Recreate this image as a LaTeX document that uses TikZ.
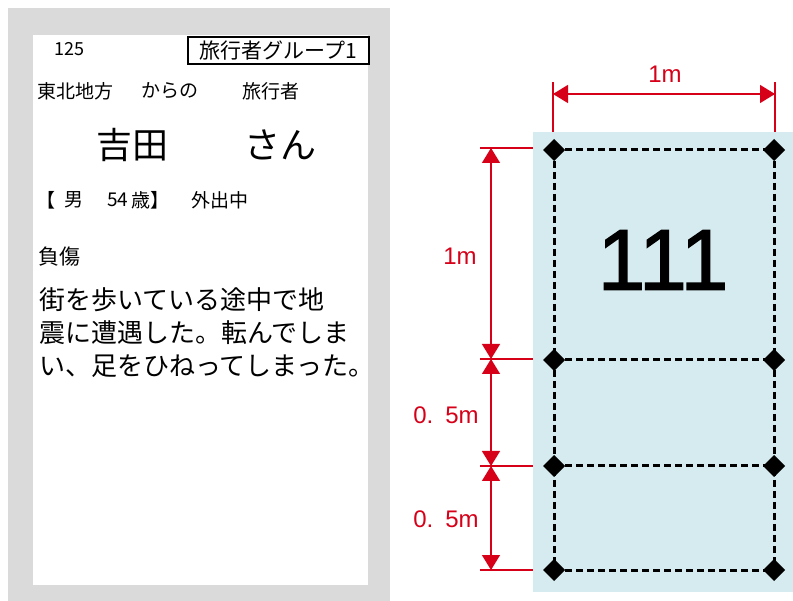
\documentclass[tikz,border=0pt]{standalone}
\usepackage{fontspec}
\setmainfont{Liberation Sans}
\newfontfamily\jp{Noto Sans CJK JP}
\newfontfamily\numfont[FakeBold=1.6]{Liberation Sans}
\usetikzlibrary{arrows.meta}
\definecolor{dimred}{RGB}{214,0,24}
\definecolor{sheet}{RGB}{214,235,240}
\definecolor{frame}{RGB}{218,218,218}
\begin{document}
\begin{tikzpicture}[x=1pt,y=-1pt,
  txt/.style={inner sep=0pt,anchor=west,font=\jp\fontsize{19}{19}\selectfont},
  big/.style={inner sep=0pt,anchor=west,font=\jp\fontsize{36}{36}\selectfont},
  para/.style={inner sep=0pt,anchor=west,font=\jp\fontsize{26}{26}\selectfont},
  dimline/.style={draw=dimred,line width=1.4pt},
  dimarrow/.style={dimline,{Triangle[length=15pt,width=18pt]}-{Triangle[length=15pt,width=18pt]}},
  extline/.style={draw=dimred,line width=1.2pt},
  dimlabel/.style={inner sep=0pt,text=dimred,font=\fontsize{24}{24}\selectfont}
]
\useasboundingbox (0,0) rectangle (793,601);
% ---------- card ----------
\fill[frame] (8,8) rectangle (390,601);
\fill[white] (33,35) rectangle (368,585);
\node[txt,font=\jp\fontsize{18}{18}\selectfont] (num) at (54,49) {125};
\node[draw=black,line width=2pt,inner sep=0pt,minimum width=181pt,minimum height=27pt,anchor=north west] (grp) at (187,36) {};
\node[inner sep=0pt,font=\jp\fontsize{21}{21}\selectfont] (grpt) at (grp.center) {旅行者グループ1};
\node[txt] (from1) at (37,91) {東北地方};
\node[txt] (from2) at (141,91) {からの};
\node[txt] (from3) at (242,91) {旅行者};
\node[big] (name1) at (96,145) {吉田};
\node[big] (name2) at (244,145) {さん};
\node[txt] (b1) at (36,200) {【};
\node[txt] (b2) at (64,200) {男};
\node[txt] (b3) at (107,200) {54};
\node[txt] (b4) at (131,200) {歳】};
\node[txt] (b5) at (191,200) {外出中};
\node[txt,font=\jp\fontsize{21}{21}\selectfont] (inj) at (38,257) {負傷};
\node[para] (p1) at (39,300) {街を歩いている途中で地};
\node[para] (p2) at (39,333) {震に遭遇した。転んでしま};
\node[para] (p3) at (39,366) {い、足をひねってしまった。};
% ---------- floor plan ----------
\fill[sheet] (533,132) rectangle (793,592);
\coordinate (a1) at (554,150); \coordinate (b1c) at (774,150);
\coordinate (a2) at (554,360); \coordinate (b2c) at (774,360);
\coordinate (a3) at (554,466); \coordinate (b3c) at (774,466);
\coordinate (a4) at (554,570); \coordinate (b4c) at (774,570);
\draw[black,line width=3pt,dash pattern=on 7pt off 4pt] (a1) -- (b1c);
\draw[black,line width=3pt,dash pattern=on 7pt off 4pt] (a2) -- (b2c);
\draw[black,line width=3pt,dash pattern=on 7pt off 4pt] (a3) -- (b3c);
\draw[black,line width=3pt,dash pattern=on 7pt off 4pt] (a4) -- (b4c);
\draw[black,line width=3pt,dash pattern=on 7pt off 4pt] (a1) -- (a4);
\draw[black,line width=3pt,dash pattern=on 7pt off 4pt] (b1c) -- (b4c);
\foreach \p in {a1,a2,a3,a4,b1c,b2c,b3c,b4c}
  \fill (\p) +(-11,0) -- +(0,-11) -- +(11,0) -- +(0,11) -- cycle;
\node[inner sep=0pt,font=\numfont\fontsize{86}{86}\selectfont] (lbl) at (663,260) {111};
% top dimension
\coordinate (t1) at (553,82); \coordinate (t1b) at (553,132);
\coordinate (t2) at (775,82); \coordinate (t2b) at (775,132);
\draw[extline] (t1) -- (t1b) (t2) -- (t2b);
\coordinate (ta) at (553,94); \coordinate (tb) at (775,94);
\draw[dimarrow] (ta) -- (tb);
\node[dimlabel] (w) at (665,74) {1m};
% left dimension
\coordinate (e1) at (480,148); \coordinate (e1b) at (533,148);
\coordinate (e2) at (480,359); \coordinate (e2b) at (533,359);
\coordinate (e3) at (480,466); \coordinate (e3b) at (533,466);
\coordinate (e4) at (480,570); \coordinate (e4b) at (533,570);
\draw[extline] (e1) -- (e1b) (e2) -- (e2b) (e3) -- (e3b) (e4) -- (e4b);
\coordinate (v1) at (491,148); \coordinate (v2) at (491,359);
\coordinate (v3) at (491,466); \coordinate (v4) at (491,570);
\draw[dimarrow] (v1) -- (v2);
\draw[dimarrow] (v2) -- (v3);
\draw[dimarrow] (v3) -- (v4);
\node[dimlabel] (h1) at (460,256) {1m};
\node[dimlabel] (h2) at (446,415) {0.\hspace{0.5em}5m};
\node[dimlabel] (h3) at (446,519) {0.\hspace{0.5em}5m};
\end{tikzpicture}
\end{document}
